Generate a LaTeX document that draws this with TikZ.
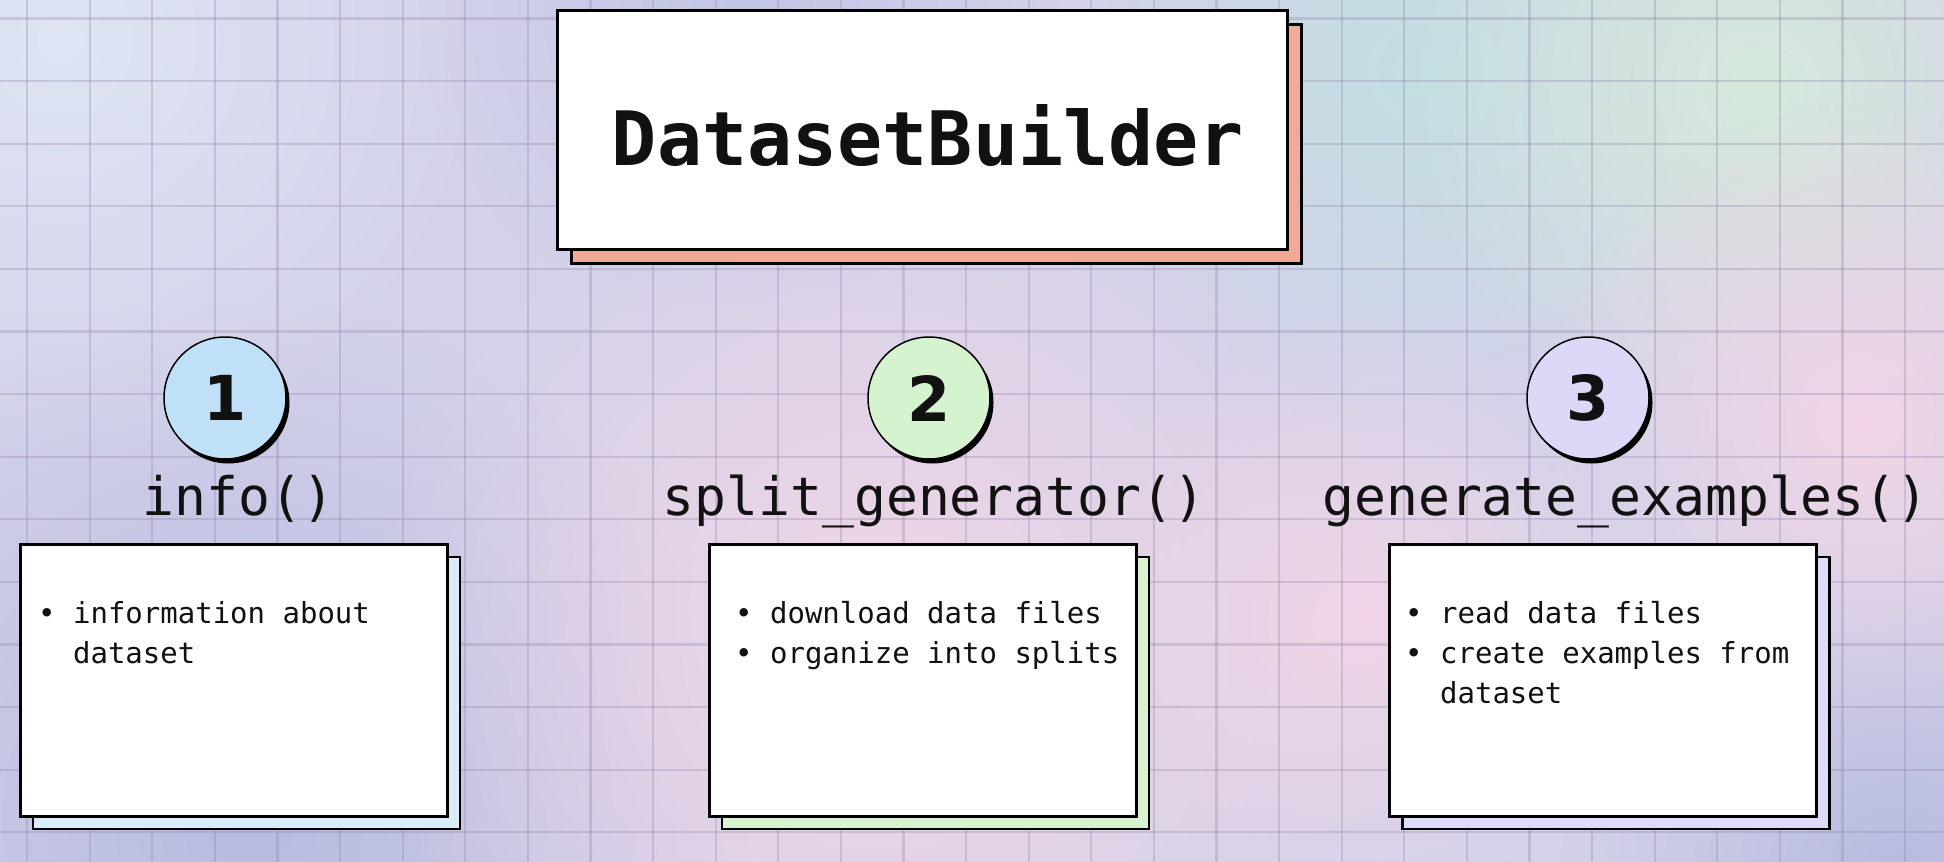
\documentclass[tikz,border=0pt]{standalone}
\usepackage{fontspec}
\setmonofont{DejaVu Sans Mono}
\newfontfamily\digitfont{DejaVu Sans}
\usetikzlibrary{shadows,fadings}

\definecolor{bgbase}{HTML}{D3D2EA}
\definecolor{bgtopleft}{HTML}{DFE5F4}
\definecolor{bgtopmid}{HTML}{C3C5E7}
\definecolor{bgteal}{HTML}{C3DFE2}
\definecolor{bggreen}{HTML}{D5EADB}
\definecolor{bgpink}{HTML}{F1D5E6}
\definecolor{bglow}{HTML}{B8BBDF}
\definecolor{gridcol}{HTML}{8C84A8}
\definecolor{titleshade}{HTML}{F2AA97}
\definecolor{dotblue}{HTML}{BFE0F6}
\definecolor{dotgreen}{HTML}{D5F3CE}
\definecolor{dotpurple}{HTML}{DCD8F8}
\definecolor{cardblue}{HTML}{D8ECFA}
\definecolor{cardgreen}{HTML}{D9F2CF}
\definecolor{cardpurple}{HTML}{DDDAFA}
\definecolor{ink}{HTML}{111111}

\tikzfading[name=glow, inner color=transparent!0, outer color=transparent!100]

\tikzset{
  gridline/.style={draw=gridcol, line width=2.2pt, opacity=0.3},
  wash/.style={fill=#1, path fading=glow},
  titlebox/.style={draw=black, line width=3pt, fill=white, inner sep=0pt,
    minimum width=730pt, minimum height=239pt,
    drop shadow={shadow xshift=14pt, shadow yshift=-14pt, opacity=1,
      fill=titleshade, draw=black, line width=3pt}},
  stepdot/.style={circle, draw=black, line width=1.5pt, inner sep=0pt,
    minimum size=122pt, text=ink,
    font=\digitfont\bfseries\fontsize{62}{62}\selectfont,
    drop shadow={shadow xshift=3.5pt, shadow yshift=-4.5pt, opacity=1, fill=black}},
  heading/.style={anchor=base, inner sep=0pt, text=ink,
    font=\ttfamily\fontsize{53}{53}\selectfont},
  card/.style={draw=black, line width=3pt, fill=white, inner sep=0pt,
    minimum width=427pt, minimum height=272pt,
    drop shadow={shadow xshift=13pt, shadow yshift=-13pt, opacity=1,
      fill=#1, draw=black, line width=2.5pt}},
  item/.style={anchor=base west, inner sep=0pt, text=ink,
    font=\ttfamily\fontsize{29}{29}\selectfont},
}

\begin{document}
\begin{tikzpicture}[x=1pt,y=-1pt]
  \useasboundingbox (0,0) rectangle (1944,862);

  % background wash
  \fill[bgbase] (0,0) rectangle (1944,862);
  \fill[wash=bglow] (250,820) circle (520pt);
  \fill[wash=bglow] (1900,880) circle (340pt);
  \fill[wash=bgtopleft] (60,40) circle (430pt);
  \fill[wash=bgtopmid] (740,10) circle (320pt);
  \fill[wash=bgteal] (1420,70) circle (340pt);
  \fill[wash=bggreen] (1760,90) circle (360pt);
  \fill[wash=bgpink] (880,640) circle (520pt);
  \fill[wash=bgpink] (1360,620) circle (300pt);
  \fill[wash=bgpink] (1860,420) circle (320pt);

  % grid
  \foreach \i in {0,...,30}
    \draw[gridline] ({27+62.6*\i},0) -- ({27+62.6*\i},862);
  \foreach \j in {0,...,13}
    \draw[gridline] (0,{18.5+62.6*\j}) -- (1944,{18.5+62.6*\j});

  % title
  \node[titlebox] (builder) at (922,129.5) {};
  \node[anchor=base, inner sep=0pt, text=ink,
    font=\ttfamily\bfseries\fontsize{75}{75}\selectfont] (builder_label) at (928,165) {DatasetBuilder};

  % numbered steps
  \node[stepdot, fill=dotblue] (step1) at (225,398) {1};
  \node[stepdot, fill=dotgreen] (step2) at (929,398) {2};
  \node[stepdot, fill=dotpurple] (step3) at (1588,398) {3};

  \node[heading] (info_title) at (238.5,515) {info()};
  \node[heading] (split_title) at (934,515) {split\_generator()};
  \node[heading] (examples_title) at (1625.5,515) {generate\_examples()};

  % cards
  \node[card=cardblue] (info_card) at (233.5,680) {};
  \node[card=cardgreen] (split_card) at (922.5,680) {};
  \node[card=cardpurple] (examples_card) at (1603,680) {};

  \node[item] (info_item1) at (38,623) {• information about};
  \node[item] (info_item1b) at (38,663) {\hphantom{• }dataset};

  \node[item] (split_item1) at (735,623) {• download data files};
  \node[item] (split_item2) at (735,663) {• organize into splits};

  \node[item] (examples_item1) at (1405,623) {• read data files};
  \node[item] (examples_item2) at (1405,663) {• create examples from};
  \node[item] (examples_item2b) at (1405,703) {\hphantom{• }dataset};
\end{tikzpicture}
\end{document}
